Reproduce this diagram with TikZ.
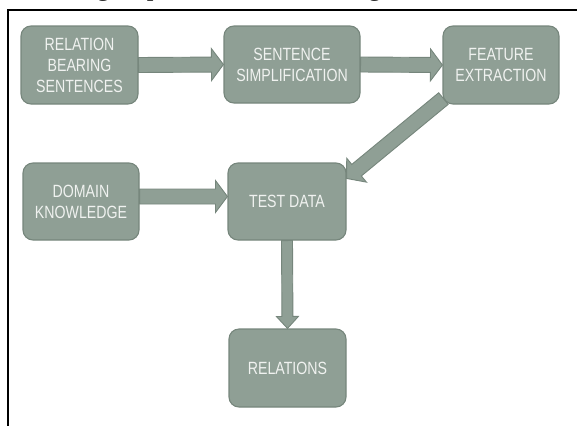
\documentclass[tikz,border=0pt]{standalone}
\usepackage{fontspec}
\setmainfont{Liberation Serif}
\newfontfamily\boxfont[FakeStretch=0.8]{Liberation Sans}
\usetikzlibrary{calc}
\pgfdeclarelayer{bg}
\pgfsetlayers{bg,main}
\definecolor{boxfill}{RGB}{143,159,149}
\definecolor{boxline}{RGB}{118,134,124}
\definecolor{boxtext}{RGB}{240,242,240}
\tikzset{
  stage/.style={draw=boxline, line width=1.1pt, fill=boxfill, rounded corners=10pt,
    text=boxtext, font=\boxfont\fontsize{17.7}{21}\selectfont, align=center, inner sep=0pt},
  flow/.style={draw=boxline, line width=0.9pt, fill=boxfill, line join=miter},
  frameline/.style={line width=2pt, draw=black},
}
\newcommand\blockarrow[5]{%
  \coordinate (bh) at ($(#2)!#5!(#1)$);
  \path[flow] ($(#1)!#3!90:(#2)$) -- ($(bh)!#3!90:(#2)$) -- ($(bh)!#4!90:(#2)$) -- (#2)
    -- ($(bh)!#4!-90:(#2)$) -- ($(bh)!#3!-90:(#2)$) -- ($(#1)!#3!-90:(#2)$) -- cycle;}
\begin{document}
\begin{tikzpicture}[x=1pt,y=-1pt]
\useasboundingbox (0,0) rectangle (577,426);
\begin{scope}
  \clip (0,0) rectangle (577,426);
  \node[anchor=base west, inner sep=0pt, font=\fontsize{27}{30}\selectfont] (cap) at (5,-5)
    {following steps as shown in the figure below};
\end{scope}
\draw[frameline] (577,9.8) -- (7.5,9.8) -- (7.5,426);

\node[stage, minimum width=117pt, minimum height=78pt] (b1) at (79.5,65) {RELATION\\BEARING\\SENTENCES};
\node[stage, minimum width=136pt, minimum height=77pt] (b2) at (292,64.5) {SENTENCE\\SIMPLIFICATION};
\node[stage, minimum width=116pt, minimum height=78pt] (b3) at (501,65) {FEATURE\\EXTRACTION};
\node[stage, minimum width=116pt, minimum height=77pt] (b4) at (81,201.5) {DOMAIN\\KNOWLEDGE};
\node[stage, minimum width=118pt, minimum height=77pt] (b5) at (287,201.5) {TEST DATA};
\node[stage, minimum width=117pt, minimum height=78pt] (b6) at (287.5,368) {RELATIONS};

\begin{pgfonlayer}{bg}
  \blockarrow{b1.east}{b2.west}{7.5pt}{16pt}{12pt}
  \blockarrow{b2.east}{b3.west}{7.5pt}{16pt}{12pt}
  \coordinate (d1) at ($(b4.east)+(0,-5)$);
  \coordinate (d2) at ($(b5.west)+(0,-5)$);
  \blockarrow{d1}{d2}{7.5pt}{16pt}{12pt}
  \coordinate (e1) at ($(b3.south west)+(1,-6)$);
  \coordinate (e2) at ($(b5.north east)+(0,16)$);
  \blockarrow{e1}{e2}{7.5pt}{15.5pt}{13pt}
  \blockarrow{b5.south}{b6.north}{5.5pt}{11pt}{12pt}
\end{pgfonlayer}
\end{tikzpicture}
\end{document}
